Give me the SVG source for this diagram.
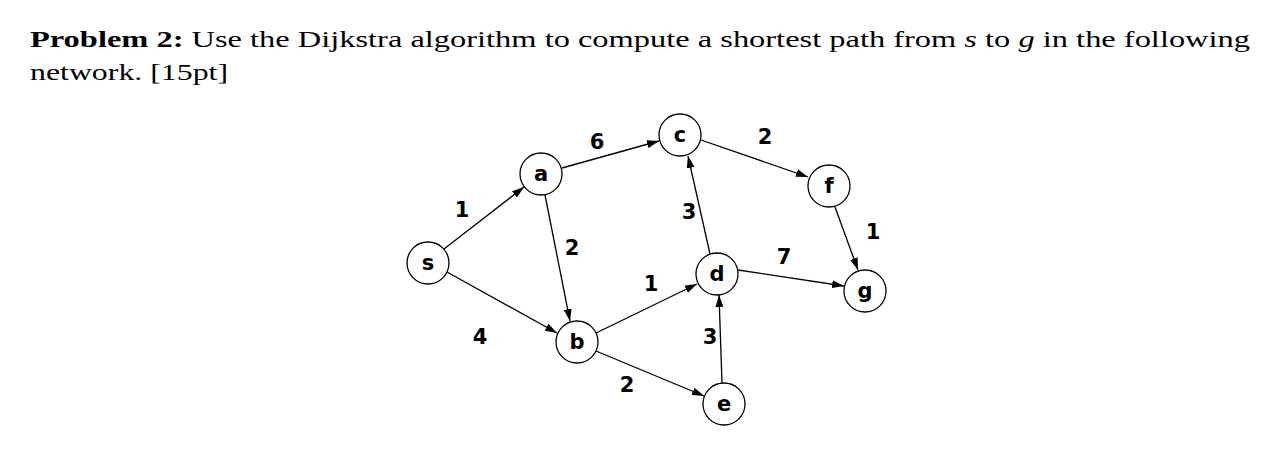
<svg xmlns="http://www.w3.org/2000/svg" width="1284" height="474" viewBox="0 0 1284 474">
<style>
.t{font-family:"Liberation Serif",serif;font-size:24px;fill:#000}
.n circle{fill:#fff;stroke:#000;stroke-width:1.3}
.n text{font-family:"DejaVu Sans",sans-serif;font-weight:bold;font-size:21px;text-anchor:middle;dominant-baseline:central}
.w{font-family:"DejaVu Sans",sans-serif;font-weight:bold;font-size:21px;text-anchor:middle;dominant-baseline:central}
#edges line{stroke:#000;stroke-width:1.3;marker-end:url(#ar)}
</style>
<defs><marker id="ar" viewBox="0 0 12 8" refX="12" refY="4" markerWidth="12" markerHeight="8" markerUnits="userSpaceOnUse" orient="auto"><path d="M0,0L12,4L0,8z"/></marker></defs>
<rect width="1284" height="474" fill="#fff"/>
<text class="t" x="30" y="47" textLength="1220" lengthAdjust="spacingAndGlyphs"><tspan font-weight="bold">Problem 2:</tspan>   Use the Dijkstra algorithm to compute a shortest path from <tspan font-style="italic">s</tspan> to <tspan font-style="italic">g</tspan> in the following</text>
<text class="t" x="30" y="80" textLength="198" lengthAdjust="spacingAndGlyphs">network. [15pt]</text>
<g id="edges">
<line x1="444" y1="249" x2="524" y2="187"/>
<line x1="447" y1="272" x2="557" y2="333"/>
<line x1="562" y1="168" x2="659" y2="141"/>
<line x1="545" y1="195" x2="570" y2="321"/>
<line x1="701" y1="140" x2="808" y2="177"/>
<line x1="835" y1="207" x2="858" y2="270"/>
<line x1="596" y1="333" x2="697" y2="284"/>
<line x1="596" y1="351" x2="704" y2="396"/>
<line x1="710" y1="254" x2="688" y2="156"/>
<line x1="738" y1="270" x2="844" y2="286"/>
<line x1="722" y1="383" x2="719" y2="295"/>
</g>
<text class="w" x="597" y="142">6</text><text class="w" x="765" y="137">2</text>
<text class="w" x="462" y="210">1</text><text class="w" x="572" y="248">2</text>
<text class="w" x="689" y="212">3</text><text class="w" x="873" y="232">1</text>
<text class="w" x="784" y="257">7</text><text class="w" x="651" y="284">1</text>
<text class="w" x="480" y="337">4</text><text class="w" x="710" y="337">3</text>
<text class="w" x="627" y="385">2</text>
<g id="s" class="n"><circle cx="428" cy="263" r="21"/><text x="428" y="263">s</text></g>
<g id="a" class="n"><circle cx="541" cy="174" r="21"/><text x="541" y="174">a</text></g>
<g id="c" class="n"><circle cx="680" cy="135" r="21"/><text x="680" y="135">c</text></g>
<g id="f" class="n"><circle cx="829" cy="186" r="21"/><text x="829" y="186">f</text></g>
<g id="g" class="n"><circle cx="865" cy="291" r="21"/><text x="865" y="291">g</text></g>
<g id="d" class="n"><circle cx="717" cy="274" r="21"/><text x="717" y="274">d</text></g>
<g id="b" class="n"><circle cx="577" cy="342" r="21"/><text x="577" y="342">b</text></g>
<g id="e" class="n"><circle cx="724" cy="404" r="21"/><text x="724" y="404">e</text></g>
</svg>
